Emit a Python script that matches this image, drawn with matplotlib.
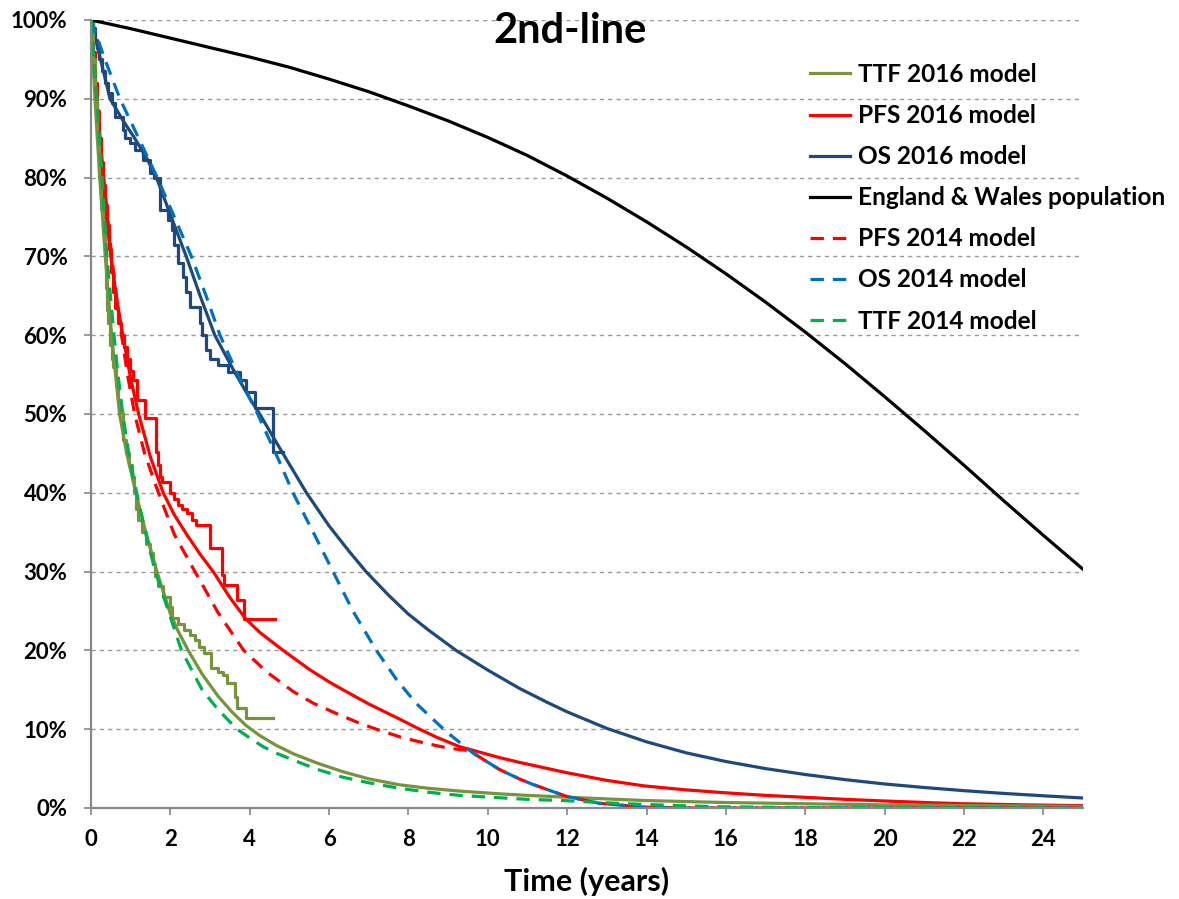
import matplotlib
matplotlib.use("Agg")
import matplotlib.pyplot as plt
from matplotlib.ticker import FuncFormatter, MultipleLocator

plt.rcParams['font.family'] = ['Lato', 'DejaVu Sans']
plt.rcParams['font.weight'] = 'bold'

# ---------------- data (years, % surviving) ----------------
ew_t = list(range(0, 26))
ew_v = [100, 98.9, 97.7, 96.5, 95.3, 94.0, 92.5, 90.9, 89.1, 87.2, 85.1, 82.8, 80.2, 77.4, 74.4,
        71.2, 67.8, 64.2, 60.4, 56.4, 52.2, 47.9, 43.5, 39.0, 34.6, 30.3]

os16_t = [0, 0.48, 0.8, 1.1, 1.4, 1.65, 2.0, 2.4, 2.75, 3.12, 3.6, 4.0, 4.25, 4.8, 5.43, 6.0, 6.5,
          6.93, 7.5, 8.0, 8.5, 9.2, 10.0, 10.79, 11.5, 12.0, 13.0, 14.0, 15.0, 16.0, 17.0, 18.0,
          19.0, 20.0, 21.0, 22.0, 23.0, 24.0, 25.0]
os16_v = [100, 90, 87.3, 85, 82.5, 80, 75.3, 70, 65, 60, 55.5, 52, 50, 45.3, 40, 35.8, 32.6,
          30, 27.0, 24.6, 22.6, 20, 17.5, 15.2, 13.4, 12.2, 10.1, 8.4, 7.0, 5.9, 5.0, 4.25,
          3.6, 3.05, 2.6, 2.2, 1.85, 1.55, 1.27]

os14_t = [0, 0.35, 0.73, 1.2, 1.67, 2.1, 2.53, 2.9, 3.25, 3.7, 4.2, 4.7, 5.09, 5.6, 6.1, 6.6, 7.19,
          7.7, 8.19, 8.95, 9.62, 10.29, 10.79, 11.13, 11.97, 12.8, 13.95, 15, 25]
os14_v = [100, 95, 90, 85, 80, 75, 70, 65, 60, 55, 50, 44.5, 40, 35, 30, 25, 20,
          16.3, 13.3, 9.7, 7.0, 4.9, 3.7, 3.0, 1.5, 0.6, 0.1, 0, 0]

pfs16_t = [0, 0.07, 0.14, 0.21, 0.28, 0.4, 0.5, 0.65, 0.8, 1.0, 1.2, 1.5, 1.82, 2.1, 2.4, 2.75, 3.08,
           3.5, 3.9, 4.25, 4.84, 5.5, 6.0, 6.35, 7.0, 7.77, 8.2, 8.7, 9.28, 10.29, 10.79, 11.97, 13.0,
           13.95, 15.0, 15.93, 17.0, 17.7, 19.0, 19.94, 21.0, 21.91, 23.5, 25]
pfs16_v = [100, 95, 90, 85, 80, 74.5, 70, 64.5, 60, 54.5, 50, 44.5, 40, 37.2, 34.8, 32.2, 30,
           26.7, 24, 22.3, 20, 17.6, 16.0, 15.0, 13.2, 11.3, 10.2, 9.0, 7.8, 6.4, 5.8, 4.5, 3.5,
           2.8, 2.3, 1.95, 1.6, 1.43, 1.1, 0.9, 0.7, 0.55, 0.4, 0.3]

pfs14_t = [0, 0.07, 0.15, 0.23, 0.32, 0.42, 0.52, 0.64, 0.77, 0.92, 1.1, 1.35, 1.7, 2.1, 2.62, 3.2,
           3.85, 4.42, 5.09, 5.6, 6.18, 6.7, 7.19, 7.8, 8.44, 9.0, 9.5, 9.62, 10.29, 10.79, 11.13,
           11.97, 12.8, 13.95, 15, 25]
pfs14_v = [100, 95, 90, 85, 80, 75, 70, 65, 60, 55, 50, 45, 40, 34.7, 30, 24.8,
           20, 17.3, 14.8, 13.3, 12.0, 10.9, 10.0, 9.0, 8.2, 7.6, 7.3, 7.0, 4.9, 3.7, 3.0,
           1.5, 0.6, 0.1, 0, 0]

ttf16_t = [0, 0.05, 0.1, 0.16, 0.22, 0.29, 0.36, 0.44, 0.52, 0.62, 0.72, 0.9, 1.13, 1.38, 1.66, 1.99,
           2.2, 2.45, 2.8, 3.2, 3.55, 3.9, 4.25, 4.65, 5.09, 5.7, 6.35, 7.0, 7.77, 8.5, 9.28, 10.29,
           11.0, 11.97, 13.0, 13.95, 15.93, 17.84, 20, 22.5, 25]
ttf16_v = [100, 95, 90, 85, 80, 75, 70, 65, 60, 55, 50, 45, 40, 35, 30, 24.8,
           22.4, 20, 17, 14.2, 12.2, 10.5, 9.2, 8.0, 6.9, 5.7, 4.6, 3.7, 2.95, 2.5, 2.15, 1.8,
           1.6, 1.38, 1.15, 0.95, 0.7, 0.55, 0.4, 0.3, 0.2]

ttf14_t = [0, 0.07, 0.15, 0.21, 0.28, 0.34, 0.4, 0.49, 0.58, 0.68, 0.8, 0.95, 1.15, 1.37, 1.62, 1.95,
           2.28, 2.8, 3.2, 3.68, 4.0, 4.33, 4.7, 5.09, 5.7, 6.35, 7.0, 7.77, 8.5, 9.28, 10.29, 11.0,
           11.97, 13.0, 13.95, 15.0, 15.93, 18, 25]
ttf14_v = [100, 95, 90, 85, 80, 75, 70, 65, 60, 55, 50, 45, 40, 35, 30, 25,
           20, 15, 12.5, 10, 8.9, 7.8, 6.9, 6.1, 4.9, 3.9, 3.2, 2.5, 2.0, 1.6, 1.3, 1.1,
           0.93, 0.65, 0.45, 0.27, 0.15, 0.05, 0]

# Kaplan-Meier step data (steps-post)
oskm_t = [0, 0.05, 0.1, 0.15, 0.2, 0.28, 0.35, 0.43, 0.53, 0.6, 0.8, 0.85, 0.98, 1.1, 1.3, 1.48, 1.6,
          1.74, 1.94, 2.04, 2.1, 2.19, 2.31, 2.4, 2.49, 2.74, 2.8, 2.9, 3.0, 3.2, 3.45, 3.75, 3.9,
          4.13, 4.58, 4.83]
oskm_v = [100, 99, 97.5, 96.5, 95, 93.5, 92, 90.7, 89.5, 87.7, 86.0, 85.0, 84.4, 83.5, 82.2, 80.6, 80.0,
          75.9, 74.6, 73.4, 71.5, 69.2, 67.4, 65.5, 63.6, 61.5, 60.0, 58.1, 57.0, 56.2, 55.3, 54.3, 52.8,
          50.8, 45.2, 45.2]

pfskm_t = [0, 0.05, 0.1, 0.15, 0.2, 0.25, 0.3, 0.35, 0.4, 0.45, 0.5, 0.55, 0.6, 0.68, 0.75, 0.82, 0.9,
           0.98, 1.06, 1.17, 1.36, 1.63, 1.7, 1.75, 1.79, 1.98, 2.1, 2.2, 2.3, 2.41, 2.55, 2.65, 3.01,
           3.31, 3.35, 3.68, 3.85, 4.63]
pfskm_v = [100, 96, 92, 88.5, 85, 82, 79, 76.5, 74, 71, 68, 65.5, 63.5, 61.5, 60, 58.5, 57,
           55.5, 54.3, 51.8, 49.5, 45.2, 43.5, 42.0, 41.4, 40.0, 39.2, 38.4, 37.9, 37.4, 36.6, 35.9, 33.0,
           29.6, 28.3, 26.4, 24.0, 24.0]

ttfkm_t = [0, 0.05, 0.1, 0.15, 0.2, 0.25, 0.3, 0.35, 0.38, 0.4, 0.43, 0.48, 0.52, 0.56, 0.62, 0.68,
           0.72, 0.8, 0.87, 0.95, 1.03, 1.08, 1.13, 1.19, 1.28, 1.38, 1.48, 1.55, 1.62, 1.7, 1.81,
           1.99, 2.03, 2.2, 2.35, 2.5, 2.62, 2.72, 2.85, 3.02, 3.2, 3.33, 3.42, 3.62, 3.67, 3.9, 4.58]
ttfkm_v = [100, 95, 90, 85, 80, 76, 73, 70, 66, 63.2, 61.5, 58.7, 57, 56, 53.5, 51.8,
           50.1, 46.7, 45, 43.5, 42.0, 40, 38, 36.5, 35, 33.5, 32.4, 31, 29.5, 28.2, 26.8,
           25.5, 24.1, 23.3, 22.6, 22, 21.3, 20.4, 19.7, 17.8, 17.2, 16.9, 15.9, 14.1, 12.7, 11.4, 11.4]

x_ticks = list(range(0, 25, 2))

# ---------------- styles ----------------
c_olive = '#77933C'
c_red = '#FF0000'
c_navy = '#1F497D'
c_blue = '#0070C0'
c_green = '#00B050'
lw = 2.3
dash = (0, (4.2, 2.8))

fig = plt.figure(figsize=(11.79, 8.99), dpi=100)
ax = fig.add_axes([91 / 1179, 1 - 808 / 899, (1083 - 91) / 1179, (808 - 20) / 899])

def pct(v):
    return [x / 100 for x in v]

l_os16, = ax.plot(os16_t, pct(os16_v), color=c_navy, lw=lw, label='OS 2016 model')
ax.plot(oskm_t, pct(oskm_v), color=c_navy, lw=lw, drawstyle='steps-post')
l_pfs16, = ax.plot(pfs16_t, pct(pfs16_v), color=c_red, lw=lw, label='PFS 2016 model')
ax.plot(pfskm_t, pct(pfskm_v), color=c_red, lw=lw, drawstyle='steps-post')
l_ttf16, = ax.plot(ttf16_t, pct(ttf16_v), color=c_olive, lw=lw, label='TTF 2016 model')
ax.plot(ttfkm_t, pct(ttfkm_v), color=c_olive, lw=lw, drawstyle='steps-post')
l_ew, = ax.plot(ew_t, pct(ew_v), color='black', lw=lw, label='England & Wales population')
l_pfs14, = ax.plot(pfs14_t, pct(pfs14_v), color=c_red, lw=lw, ls=dash, label='PFS 2014 model')
l_os14, = ax.plot(os14_t, pct(os14_v), color=c_blue, lw=lw, ls=dash, label='OS 2014 model')
l_ttf14, = ax.plot(ttf14_t, pct(ttf14_v), color=c_green, lw=lw, ls=dash, label='TTF 2014 model')

ax.set_xlim(0, 25)
ax.set_ylim(0, 1)
ax.set_xticks(x_ticks)
ax.yaxis.set_major_locator(MultipleLocator(0.1))
ax.yaxis.set_major_formatter(FuncFormatter(lambda v, p: f"{v * 100:.0f}%"))

ax.grid(axis='y', color='#999999', lw=1.0, ls=(0, (3, 3)))
ax.set_axisbelow(True)
for s in ['top', 'right']:
    ax.spines[s].set_visible(False)
for s in ['left', 'bottom']:
    ax.spines[s].set_color('#888888')
    ax.spines[s].set_linewidth(1.6)
ax.tick_params(axis='both', colors='#888888', width=1.2, length=5, labelcolor='black', labelsize=16)
ax.tick_params(axis='y', pad=12)
ax.tick_params(axis='x', pad=10)
for lab in ax.get_xticklabels() + ax.get_yticklabels():
    lab.set_fontweight('bold')

ax.set_xlabel('Time (years)', fontsize=22, fontweight='bold', labelpad=12)
fig.text(570 / 1179, 1 - 31 / 899, '2nd-line', fontsize=30, fontweight='bold', ha='center', va='center')

handles = [l_ttf16, l_pfs16, l_os16, l_ew, l_pfs14, l_os14, l_ttf14]
leg = ax.legend(handles=handles, loc='upper left', bbox_to_anchor=(810 / 1179, 1 - 63 / 899),
                bbox_transform=fig.transFigure, frameon=False, fontsize=17.6,
                handlelength=1.65, handletextpad=0.3, labelspacing=0.74, borderaxespad=0, borderpad=0)
for t in leg.get_texts():
    t.set_fontweight('bold')

fig.savefig('out.png', dpi=100)
